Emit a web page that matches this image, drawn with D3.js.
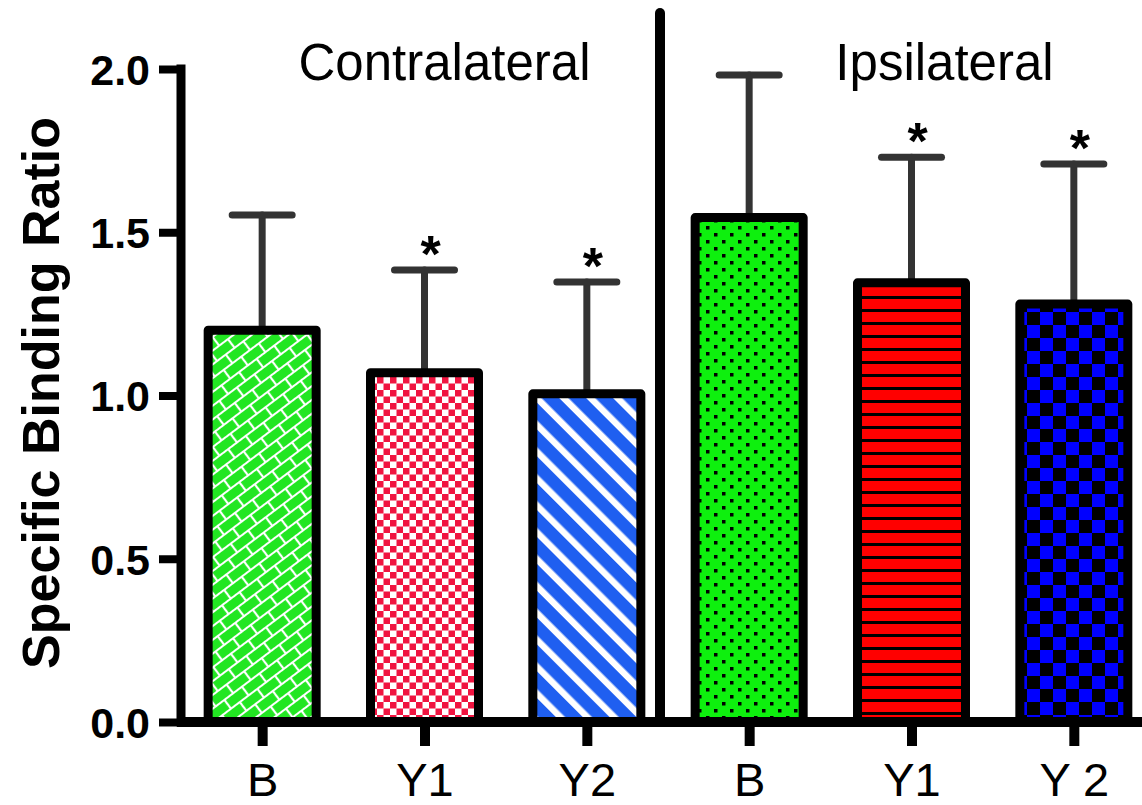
<!DOCTYPE html>
<html>
<head>
<meta charset="utf-8">
<script src="https://cdn.jsdelivr.net/npm/d3@7"></script>
<style>
  html, body { margin: 0; padding: 0; background: #fff; }
  svg { display: block; }
  text { font-family: "Liberation Sans", Arial, sans-serif; }
</style>
</head>
<body>
<svg id="chart" width="1142" height="805"></svg>
<script>
// Specific binding ratio per region and time point (mean, upper error)
const categories = ["B", "Y1", "Y2", "B", "Y1", "Y 2"];
const groupNames = ["Contralateral", "Ipsilateral"];
const groupOf = [0, 0, 0, 1, 1, 1];
const means = [1.20, 1.07, 1.005, 1.545, 1.345, 1.28];
const errors = [0.353, 0.314, 0.343, 0.437, 0.385, 0.429];
const significant = [false, true, true, false, true, true];
const yTicks = [0.0, 0.5, 1.0, 1.5, 2.0];
const fills = ["brick", "redCheck", "blueStripe", "greenDots", "redLines", "blueCheck"];

const svg = d3.select("#chart");
const axisX = 181, axisY = 722;

const y = d3.scaleLinear().domain([0, 2]).range([axisY, 69]);
const x = d3.scalePoint().domain(d3.range(categories.length)).range([axisX, 1155]).padding(0.5);

// ---- fill patterns ----
const defs = svg.append("defs");

// green brick, tilted
const pb = defs.append("pattern").attr("id", "brick").attr("patternUnits", "userSpaceOnUse")
  .attr("width", 44).attr("height", 22).attr("patternTransform", "rotate(-37)");
pb.append("rect").attr("width", 44).attr("height", 22).attr("fill", "#22e622");
pb.append("path").attr("d", "M0,1H44M0,12H44M11,1V12M33,1V12M0,12V23M22,12V23M44,12V23")
  .attr("stroke", "#fff").attr("stroke-width", 2.2).attr("fill", "none");

// red/white checks
const pr = defs.append("pattern").attr("id", "redCheck").attr("patternUnits", "userSpaceOnUse")
  .attr("width", 13).attr("height", 13);
pr.append("rect").attr("width", 13).attr("height", 13).attr("fill", "#fff");
pr.append("rect").attr("width", 6.5).attr("height", 6.5).attr("fill", "#f01440");
pr.append("rect").attr("x", 6.5).attr("y", 6.5).attr("width", 6.5).attr("height", 6.5).attr("fill", "#f01440");

// blue with white diagonal stripes
const ps = defs.append("pattern").attr("id", "blueStripe").attr("patternUnits", "userSpaceOnUse")
  .attr("width", 19).attr("height", 19).attr("patternTransform", "rotate(-45)");
ps.append("rect").attr("width", 19).attr("height", 19).attr("fill", "#1f5ff0");
ps.append("rect").attr("width", 6.5).attr("height", 19).attr("fill", "#fff");

// green with black dots
const pd = defs.append("pattern").attr("id", "greenDots").attr("patternUnits", "userSpaceOnUse")
  .attr("width", 16).attr("height", 14);
pd.append("rect").attr("width", 16).attr("height", 14).attr("fill", "#0ef00e");
pd.append("rect").attr("x", 2).attr("y", 2).attr("width", 3.5).attr("height", 3.5).attr("fill", "#000");
pd.append("rect").attr("x", 10).attr("y", 9).attr("width", 3.5).attr("height", 3.5).attr("fill", "#000");

// red with black horizontal lines
const pl = defs.append("pattern").attr("id", "redLines").attr("patternUnits", "userSpaceOnUse")
  .attr("width", 13).attr("height", 13);
pl.append("rect").attr("width", 13).attr("height", 13).attr("fill", "#ff0000");
pl.append("rect").attr("y", 10).attr("width", 13).attr("height", 3).attr("fill", "#000");

// blue/black checks
const pc = defs.append("pattern").attr("id", "blueCheck").attr("patternUnits", "userSpaceOnUse")
  .attr("width", 26).attr("height", 26);
pc.append("rect").attr("width", 26).attr("height", 26).attr("fill", "#000");
pc.append("rect").attr("width", 13).attr("height", 13).attr("fill", "#0000ff");
pc.append("rect").attr("x", 13).attr("y", 13).attr("width", 13).attr("height", 13).attr("fill", "#0000ff");

const barW = 108;

// ---- error bars (upper only), drawn beneath bars ----
const eb = svg.append("g").attr("stroke", "#333").attr("stroke-width", 7).attr("stroke-linecap", "round");
means.forEach((m, i) => {
  const cx = x(i);
  eb.append("line").attr("x1", cx).attr("x2", cx).attr("y1", y(m)).attr("y2", y(m + errors[i]));
  eb.append("line").attr("x1", cx - 30).attr("x2", cx + 30).attr("y1", y(m + errors[i])).attr("y2", y(m + errors[i]));
});

// ---- bars ----
svg.append("g").selectAll("rect").data(means).join("rect")
  .attr("x", (d, i) => x(i) - barW / 2)
  .attr("y", d => y(d))
  .attr("width", barW)
  .attr("height", d => y(0) - y(d))
  .attr("fill", (d, i) => `url(#${fills[i]})`)
  .attr("stroke", "#000").attr("stroke-width", 9).attr("stroke-linejoin", "round");

// ---- significance marks ----
svg.append("g").selectAll("text").data(means.map((m, i) => ({ m, i })).filter(d => significant[d.i])).join("text")
  .attr("x", d => x(d.i) + 6)
  .attr("y", d => y(d.m + errors[d.i]) + 2)
  .attr("text-anchor", "middle")
  .attr("font-size", 52).attr("font-weight", "bold")
  .text("*");

// ---- y axis ----
const yAxis = d3.axisLeft(y).tickValues(yTicks).tickFormat(d3.format(".1f")).tickSize(22).tickPadding(9);
const gy = svg.append("g").attr("transform", `translate(${axisX},0)`).call(yAxis);
gy.select(".domain").attr("d", `M0,${y(2) - 4.5}V${axisY + 4.5}`).attr("stroke", "#000").attr("stroke-width", 9);
gy.selectAll(".tick line").attr("stroke", "#000").attr("stroke-width", 8);
gy.selectAll(".tick text").attr("font-size", 43).attr("font-weight", "bold").attr("fill", "#000")
  .attr("font-family", "Liberation Sans, Arial, sans-serif").attr("dy", "0.36em");
gy.select(".tick:last-of-type line").attr("x1", -22).attr("x2", 4);

// ---- x axis ----
const xAxis = d3.axisBottom(x).tickFormat(i => categories[i]).tickSize(24).tickPadding(17);
const gx = svg.append("g").attr("transform", `translate(0,${axisY})`).call(xAxis);
gx.select(".domain").attr("d", `M${axisX - 4},0H1142`).attr("stroke", "#000").attr("stroke-width", 10);
gx.selectAll(".tick line").attr("stroke", "#000").attr("stroke-width", 10);
gx.selectAll(".tick text").attr("font-size", 47).attr("fill", "#000")
  .attr("font-family", "Liberation Sans, Arial, sans-serif");

// ---- group divider ----
const divX = (x(2) + x(3)) / 2 - 8;
svg.append("line").attr("x1", divX).attr("x2", divX).attr("y1", 13).attr("y2", axisY)
  .attr("stroke", "#000").attr("stroke-width", 10).attr("stroke-linecap", "round");

// ---- group titles ----
const titleShift = [20, 33];
groupNames.forEach((g, k) => {
  const idx = d3.range(categories.length).filter(i => groupOf[i] === k);
  const cx = d3.mean(idx, i => x(i));
  svg.append("text").attr("x", cx + titleShift[k])
    .attr("y", 80).attr("text-anchor", "middle").attr("font-size", 51).attr("fill", "#000").text(g);
});

// ---- y axis title ----
svg.append("text")
  .attr("transform", `translate(59,${393}) rotate(-90)`)
  .attr("text-anchor", "middle")
  .attr("font-size", 52).attr("font-weight", "bold").attr("fill", "#000")
  .text("Specific Binding Ratio");
</script>
</body>
</html>
